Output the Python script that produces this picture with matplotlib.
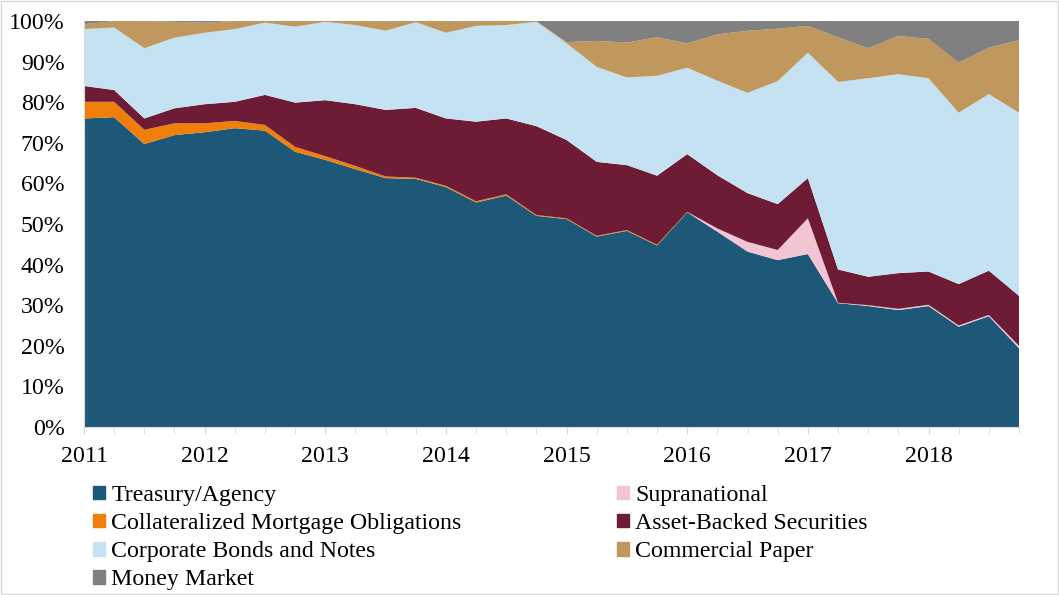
import matplotlib
matplotlib.use("Agg")
import matplotlib.pyplot as plt
import matplotlib.patches as mpatches
from matplotlib.ticker import FuncFormatter, MultipleLocator
import numpy as np

plt.rcParams['font.family'] = ['Liberation Serif', 'DejaVu Serif']

# quarterly portfolio composition, 2011 Q1 .. 2018 Q4 (percent)
years = [2011, 2012, 2013, 2014, 2015, 2016, 2017, 2018]

treasury = [76.0, 76.3, 69.7, 71.9, 72.6, 73.6, 73.0, 67.8, 65.8, 63.5, 61.3, 61.1,
            59.1, 55.3, 57.0, 52.0, 51.2, 46.9, 48.3, 44.7, 52.9, 48.1, 43.2, 41.1,
            42.6, 30.5, 29.8, 28.8, 29.8, 24.7, 27.3, 19.4]
supranational = [0, 0, 0, 0, 0, 0, 0, 0, 0, 0, 0, 0,
                 0, 0, 0, 0, 0, 0, 0, 0, 0, 0.8, 2.4, 2.5,
                 8.8, 0.1, 0.2, 0.3, 0.3, 0.3, 0.3, 0.6]
cmo = [4.1, 3.8, 3.5, 2.9, 2.2, 1.8, 1.4, 1.2, 0.9, 0.8, 0.4, 0.3,
       0.3, 0.3, 0.3, 0.2, 0.2, 0.2, 0.2, 0.2, 0.1, 0, 0, 0,
       0, 0, 0, 0, 0, 0, 0, 0]
abs_sec = [3.9, 2.9, 2.8, 3.7, 4.7, 4.7, 7.4, 10.9, 13.8, 15.2, 16.4, 17.2,
           16.6, 19.6, 18.7, 21.9, 19.3, 18.2, 16.0, 17.0, 14.2, 13.1, 12.0, 11.3,
           9.9, 8.2, 7.0, 8.8, 8.2, 10.2, 10.9, 12.3]
corporate = [14.0, 15.4, 17.3, 17.4, 17.6, 17.9, 17.8, 18.7, 19.3, 19.5, 19.5, 21.1,
             21.1, 23.6, 23.0, 25.7, 23.8, 23.4, 21.6, 24.6, 21.3, 23.3, 24.7, 30.3,
             30.9, 46.2, 48.9, 49.0, 47.6, 42.2, 43.5, 45.1]
comm_paper = [1.2, 1.6, 6.7, 3.9, 2.5, 2.0, 0.4, 1.4, 0.2, 1.0, 2.4, 0.3,
              2.9, 1.2, 1.0, 0.2, 0.3, 6.4, 8.6, 9.5, 6.0, 11.4, 15.3, 12.9,
              6.6, 11.0, 7.4, 9.4, 9.7, 12.3, 11.4, 17.9]
money_market = [0.8, 0, 0, 0.2, 0.4, 0, 0, 0, 0, 0, 0, 0,
                0, 0, 0, 0, 5.2, 4.9, 5.3, 4.0, 5.5, 3.3, 2.4, 1.9,
                1.2, 4.0, 6.7, 3.7, 4.4, 10.3, 6.6, 4.7]

labels = ["Treasury/Agency", "Supranational", "Collateralized Mortgage Obligations",
          "Asset-Backed Securities", "Corporate Bonds and Notes", "Commercial Paper",
          "Money Market"]
colors = ["#1E5878", "#F2C4D4", "#F07F09", "#6E1C36", "#C5E2F2", "#C0975C", "#808080"]

series = [treasury, supranational, cmo, abs_sec, corporate, comm_paper, money_market]
x = np.arange(len(treasury))

fig = plt.figure(figsize=(10.59, 5.95), dpi=100)
ax = fig.add_axes([84 / 1059, 1 - 427 / 595, (1019 - 84) / 1059, (427 - 21) / 595])

ax.stackplot(x, *series, colors=colors, labels=labels, linewidth=0)

ax.set_xlim(0, len(x) - 1)
ax.set_ylim(0, 100)
ax.yaxis.set_major_locator(MultipleLocator(10))
ax.yaxis.set_major_formatter(FuncFormatter(lambda v, p: f"{v:.0f}%"))
ax.set_xticks(np.arange(0, len(x), 4))
ax.set_xticklabels([str(y) for y in years])
ax.set_xticks(x, minor=True)

for s in ['top', 'right']:
    ax.spines[s].set_visible(False)
for s in ['left', 'bottom']:
    ax.spines[s].set_color('#D9D9D9')
ax.tick_params(axis='y', length=0, labelsize=17.2, pad=14)
ax.tick_params(axis='x', which='both', length=5, color='#D9D9D9', labelsize=17.2)
ax.tick_params(axis='x', which='major', pad=9)

# legend: Excel fills row-wise, matplotlib column-wise
order = [0, 2, 4, 6, 1, 3, 5]
handles = [mpatches.Patch(color=colors[i]) for i in order]
fig.legend(handles, [labels[i] for i in order], ncol=2,
           loc='upper left', bbox_to_anchor=(93 / 1059, 1 - 485 / 595),
           frameon=False, fontsize=17.2, handlelength=0.5, handleheight=0.5,
           handletextpad=0.27, labelspacing=0.3, columnspacing=6.5,
           borderaxespad=0, borderpad=0)

fig.patches.append(mpatches.Rectangle((0.001, 0.001), 0.998, 0.997, transform=fig.transFigure,
                                      fill=False, edgecolor='#D9D9D9', linewidth=1))

fig.savefig("out.png", dpi=100)
